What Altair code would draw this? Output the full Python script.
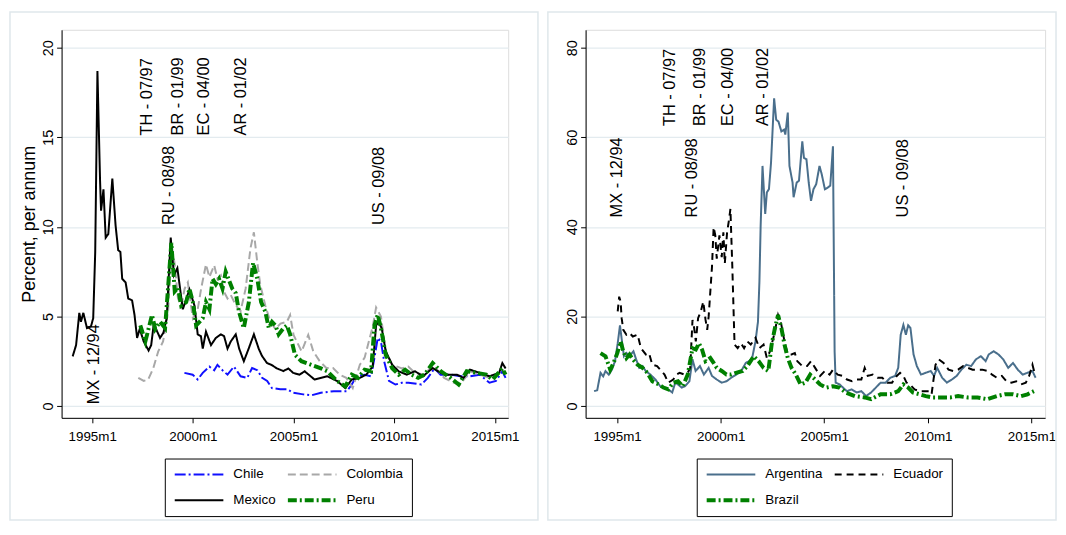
import altair as alt
import pandas as pd

FONT = "Liberation Sans, Arial, sans-serif"

# ---------------- Left panel data (percent per annum) ----------------
mexico_t = [1994.03,1994.2,1994.36,1994.44,1994.56,1994.74,1994.94,1995.05,1995.15,1995.26,1995.39,1995.44,1995.5,1995.56,1995.67,1995.8,1996.0,1996.16,1996.29,1996.4,1996.49,1996.66,1996.79,1996.98,1997.1,1997.23,1997.36,1997.56,1997.8,1997.93,1998.05,1998.17,1998.37,1998.54,1998.7,1998.9,1999.06,1999.23,1999.5,1999.83,2000.08,2000.24,2000.4,2000.49,2000.65,2000.9,2001.14,2001.39,2001.55,2001.72,2001.88,2002.13,2002.3,2002.53,2002.77,2003.03,2003.27,2003.43,2003.68,2003.9,2004.17,2004.5,2004.74,2004.98,2005.3,2005.55,2006.04,2006.68,2007.16,2007.57,2007.89,2008.29,2008.61,2008.93,2009.1,2009.22,2009.38,2009.58,2009.9,2010.22,2010.62,2011.03,2011.43,2011.91,2012.32,2012.64,2013.12,2013.44,2013.76,2014.25,2014.73,2015.21,2015.37,2015.53]
mexico_v = [2.77,3.4,5.2,4.7,5.2,4.35,4.45,4.9,8.6,18.7,12.6,10.9,11.5,12.1,9.4,9.6,12.7,10.1,8.7,8.6,7.1,6.9,6.0,5.9,5.1,3.8,4.3,3.6,3.1,3.4,4.5,4.3,3.8,4.1,4.9,9.4,7.3,7.7,5.4,6.5,5.6,4.0,3.9,3.2,4.15,3.4,3.8,4.0,3.9,3.2,3.6,4.0,3.2,2.5,3.2,4.0,3.2,2.8,2.4,2.3,2.1,1.95,2.1,1.85,1.75,1.94,1.48,1.66,1.4,1.0,1.48,1.57,1.75,2.2,4.5,4.7,4.33,3.05,2.3,1.94,1.75,1.94,1.66,2.12,1.85,1.75,1.75,1.57,2.03,1.85,1.66,1.85,2.4,2.1]

chile_t = [1999.58,1999.99,2000.24,2000.49,2000.82,2001.06,2001.22,2001.47,2001.72,2002.04,2002.37,2002.7,2002.94,2003.2,2003.44,2003.69,2003.93,2004.34,2004.67,2004.99,2005.48,2005.9,2006.36,2007.0,2007.65,2007.89,2008.13,2008.53,2008.85,2009.02,2009.18,2009.34,2009.5,2009.74,2010.06,2010.38,2010.7,2011.35,2011.67,2012.0,2012.3,2012.8,2013.28,2013.76,2014.25,2014.73,2015.05,2015.37,2015.53]
chile_v = [1.85,1.75,1.48,1.85,2.2,2.0,2.3,2.0,1.75,2.2,1.66,1.57,2.12,2.0,1.57,1.4,1.0,0.94,0.94,0.74,0.65,0.6,0.74,0.83,0.83,1.2,1.66,1.75,1.66,2.7,3.8,3.6,2.5,1.4,1.2,1.3,1.3,1.2,1.57,2.1,1.75,1.75,1.66,1.66,1.75,1.3,1.4,1.94,1.57]

colombia_t = [1997.29,1997.56,1997.78,1998.03,1998.28,1998.52,1998.77,1998.93,1999.1,1999.26,1999.43,1999.59,1999.75,1999.92,2000.0,2000.24,2000.41,2000.65,2000.82,2001.06,2001.22,2001.39,2001.55,2001.72,2001.88,2002.13,2002.37,2002.62,2002.86,2003.03,2003.2,2003.35,2003.6,2003.85,2004.1,2004.35,2004.67,2004.83,2005.0,2005.16,2005.4,2005.73,2005.98,2006.3,2006.63,2006.96,2007.29,2007.62,2007.94,2008.29,2008.53,2008.93,2009.1,2009.34,2009.58,2009.9,2010.38,2010.7,2011.03,2011.51,2011.91,2012.48,2012.96,2013.28,2013.76,2014.25,2014.73,2015.05,2015.37,2015.53]
colombia_v = [1.57,1.4,1.48,2.1,3.05,3.6,5.26,9.1,7.9,6.0,5.6,6.55,6.9,5.5,4.9,5.4,6.55,7.9,7.2,7.85,7.1,7.3,6.37,6.0,6.2,5.63,5.3,6.55,8.8,9.7,8.0,6.75,5.6,4.7,4.3,4.6,4.7,5.08,3.97,3.6,3.05,3.97,3.05,2.5,2.12,2.12,1.75,1.57,1.0,2.3,2.7,4.43,5.5,5.0,3.05,2.3,2.1,2.2,1.85,1.75,2.3,1.57,1.3,1.2,1.94,1.75,1.57,1.66,2.03,1.85]

peru_t = [1997.39,1997.64,1997.97,1998.13,1998.37,1998.62,1998.93,1999.1,1999.26,1999.42,1999.67,1999.83,2000.0,2000.16,2000.33,2000.49,2000.65,2000.82,2000.98,2001.14,2001.3,2001.47,2001.63,2001.8,2001.96,2002.13,2002.29,2002.53,2002.78,2002.99,2003.2,2003.39,2003.6,2003.77,2003.93,2004.1,2004.26,2004.5,2004.67,2004.83,2005.07,2005.39,2005.88,2006.36,2006.68,2007.16,2007.57,2007.89,2008.21,2008.53,2008.85,2009.02,2009.18,2009.34,2009.58,2009.9,2010.22,2010.54,2010.87,2011.19,2011.51,2011.91,2012.32,2012.8,2013.2,2013.6,2014.09,2014.57,2014.89,2015.37,2015.53]
peru_v = [4.5,3.6,5.08,4.3,4.7,4.35,9.1,6.4,6.6,5.6,5.8,6.55,5.8,4.5,4.7,4.9,5.8,5.4,7.1,6.8,7.1,6.55,7.5,7.0,6.55,6.3,5.26,4.35,5.8,8.0,7.1,5.8,5.26,4.35,4.7,4.5,4.0,4.35,4.5,4.0,2.86,2.5,2.3,2.1,1.94,1.4,1.1,1.75,1.57,2.03,1.94,4.5,5.1,4.35,2.86,2.1,1.75,2.03,1.75,1.57,1.75,2.4,1.94,1.57,1.2,1.94,1.85,1.75,1.48,2.1,1.75]

# ---------------- Right panel data ----------------
argentina_t = [1993.89,1994.04,1994.2,1994.33,1994.44,1994.6,1994.75,1994.9,1995.03,1995.14,1995.22,1995.33,1995.45,1995.6,1995.79,1995.92,1996.07,1996.23,1996.38,1996.61,1996.85,1997.08,1997.28,1997.47,1997.66,1997.81,1997.94,1998.12,1998.28,1998.49,1998.64,1998.79,1999.0,1999.19,1999.42,1999.58,1999.81,2000.05,2000.28,2000.51,2000.75,2000.98,2001.21,2001.37,2001.52,2001.68,2001.8,2001.87,2001.93,2002.02,2002.15,2002.23,2002.33,2002.43,2002.58,2002.68,2002.79,2002.93,2003.06,2003.12,2003.24,2003.32,2003.47,2003.52,2003.67,2003.78,2003.94,2004.02,2004.14,2004.25,2004.36,2004.48,2004.61,2004.77,2004.88,2005.03,2005.18,2005.29,2005.42,2005.5,2005.55,2005.74,2006.09,2006.32,2006.56,2006.79,2007.02,2007.26,2007.49,2007.72,2007.96,2008.19,2008.42,2008.57,2008.69,2008.82,2008.94,2009.05,2009.16,2009.31,2009.47,2009.67,2009.9,2010.14,2010.3,2010.45,2010.69,2010.92,2011.16,2011.39,2011.62,2011.86,2012.09,2012.32,2012.56,2012.79,2012.94,2013.18,2013.41,2013.64,2013.88,2014.11,2014.34,2014.58,2014.81,2015.05,2015.2]
argentina_v = [3.3,3.5,7.4,6.6,7.8,7.0,8.1,10.0,14.0,18.0,15.0,11.1,11.8,11.1,12.2,10.4,8.5,8.9,7.8,7.0,5.9,4.4,4.1,3.7,3.0,5.2,4.8,4.1,4.4,5.5,10.4,7.8,8.9,7.0,8.5,6.7,5.9,5.2,5.5,6.3,7.0,7.7,9.6,10.0,10.7,14.4,18.8,27.7,40.3,53.6,42.9,47.7,48.4,54.3,68.7,63.9,63.5,61.3,61.7,60.6,65.5,53.6,49.9,46.6,49.9,50.3,59.1,55.4,55.1,49.9,45.8,48.4,49.5,53.6,51.7,48.4,48.8,49.2,58.0,12.2,5.2,4.8,3.3,3.7,3.0,3.3,2.2,3.0,4.1,5.2,5.2,6.3,6.7,8.5,15.9,18.1,15.9,18.0,17.4,11.5,8.9,7.0,7.4,7.8,6.7,8.5,6.3,5.2,5.9,6.7,8.1,9.2,8.9,10.4,11.1,10.0,11.5,12.2,11.5,10.4,8.5,9.6,8.1,7.0,7.4,7.8,6.3]

ecuador_t = [1995.03,1995.1,1995.17,1995.22,1995.3,1995.45,1995.6,1995.76,1995.99,1996.15,1996.39,1996.54,1996.7,1996.93,1997.08,1997.29,1997.47,1997.71,1997.86,1998.02,1998.25,1998.41,1998.53,1998.64,1998.72,1998.8,1998.91,1999.04,1999.16,1999.27,1999.35,1999.42,1999.5,1999.58,1999.66,1999.74,1999.81,1999.94,2000.05,2000.13,2000.2,2000.31,2000.41,2000.47,2000.56,2000.67,2000.82,2000.98,2001.13,2001.29,2001.45,2001.68,2001.87,2002.07,2002.23,2002.38,2002.58,2002.77,2002.93,2003.08,2003.24,2003.42,2003.58,2003.7,2003.94,2004.17,2004.36,2004.56,2004.8,2005.03,2005.26,2005.42,2005.65,2005.88,2006.1,2006.34,2006.57,2006.79,2006.95,2007.1,2007.34,2007.57,2007.8,2008.04,2008.27,2008.5,2008.66,2008.82,2008.97,2009.13,2009.36,2009.6,2009.83,2010.06,2010.18,2010.37,2010.53,2010.76,2011.0,2011.23,2011.46,2011.7,2011.93,2012.16,2012.4,2012.63,2012.87,2013.1,2013.33,2013.57,2013.8,2014.03,2014.27,2014.5,2014.73,2014.89,2015.05,2015.17]
ecuador_v = [21.1,24.4,23.3,19.6,17.0,15.9,16.3,15.5,15.9,12.9,11.5,11.8,9.2,8.9,8.1,7.0,5.2,5.9,7.0,7.4,7.0,7.4,8.5,19.2,17.4,14.4,19.6,21.1,23.3,19.2,17.0,20.0,25.5,31.0,39.9,38.1,32.9,38.1,33.2,38.8,31.8,38.8,41.8,44.0,31.4,13.7,12.9,14.0,12.9,14.4,13.7,15.2,12.9,13.7,10.7,12.2,15.9,20.3,18.1,14.4,11.5,11.5,11.8,10.0,8.9,8.9,10.0,8.5,6.7,7.8,7.0,8.1,7.0,6.7,5.9,5.5,5.9,5.9,8.5,6.7,7.0,6.3,6.3,5.2,5.2,6.7,7.4,6.7,5.2,4.8,3.7,3.3,3.3,3.3,2.6,9.2,10.4,9.6,8.1,7.8,8.1,8.9,8.5,8.1,8.1,8.1,7.8,7.0,6.3,6.7,5.5,5.2,5.5,4.8,5.2,6.7,9.2,7.0]

brazil_t = [1994.2,1994.44,1994.67,1994.83,1995.01,1995.17,1995.3,1995.45,1995.6,1995.76,1995.99,1996.23,1996.46,1996.7,1997.01,1997.24,1997.47,1997.71,1997.94,1998.17,1998.41,1998.64,1998.8,1998.95,1999.1,1999.27,1999.5,1999.66,1999.81,2000.05,2000.28,2000.51,2000.74,2001.06,2001.29,2001.6,2001.83,2002.07,2002.3,2002.46,2002.62,2002.77,2002.93,2003.08,2003.24,2003.42,2003.63,2003.86,2004.09,2004.32,2004.56,2004.8,2005.1,2005.42,2005.73,2006.04,2006.48,2006.95,2007.26,2007.72,2008.19,2008.57,2008.82,2009.05,2009.28,2009.6,2009.9,2010.22,2010.69,2011.08,2011.46,2011.93,2012.4,2012.87,2013.33,2013.72,2014.11,2014.5,2014.81,2015.12]
brazil_v = [11.8,11.1,8.1,9.6,11.8,14.4,12.2,10.7,11.5,10.4,9.2,8.5,7.4,5.5,4.8,4.1,3.7,5.2,5.5,4.4,7.0,12.9,12.6,14.0,12.6,10.0,10.7,9.6,8.5,7.8,7.0,7.0,7.4,7.8,8.9,11.1,10.0,8.5,7.8,13.7,17.4,20.3,17.4,13.7,10.7,8.5,7.0,4.8,5.2,7.0,5.9,4.8,4.1,4.4,4.1,3.0,2.2,1.9,1.5,2.6,2.6,3.3,4.8,4.1,3.0,2.6,2.2,1.9,1.9,1.9,2.2,1.9,1.9,1.5,2.2,2.6,2.6,2.2,2.6,3.3]

# ---------------- Crisis annotations (positions as drawn in each panel) ----------------
crisis_labels = ["MX - 12/94", "TH - 07/97", "RU - 08/98", "BR - 01/99", "EC - 04/00", "AR - 01/02", "US - 09/08"]
crisis_x_left = [1995.1, 1997.7, 1998.83, 1999.28, 2000.55, 2002.37, 2009.25]
crisis_y_left = [0.1, 15.1, 10.1, 15.1, 15.1, 15.1, 10.1]
crisis_x_right = [1994.99, 1997.56, 1998.64, 1999.02, 2000.37, 2002.06, 2008.79]
crisis_y_right = [42.1, 62.5, 42.1, 62.5, 62.5, 62.5, 42.1]

x_ticks = [1995, 2000, 2005, 2010, 2015]
X_DOMAIN = [1993.48, 2015.66]


def series_frame(names, ts, vs):
    rows = []
    for n, t, v in zip(names, ts, vs):
        assert len(t) == len(v), n
        rows += [{"s": n, "t": a, "v": b} for a, b in zip(t, v)]
    return pd.DataFrame(rows)


def panel(names, legend_order, ts, vs, colors, dashes, widths, ydomain, yticks,
          width, ann_x, ann_y, ytitle, legend_x, frame_x):
    df = series_frame(names, ts, vs)
    cmap = dict(zip(names, colors))
    dmap = dict(zip(names, dashes))
    wmap = dict(zip(names, widths))
    xs = alt.Scale(domain=X_DOMAIN, nice=False, zero=False)
    ys = alt.Scale(domain=ydomain, nice=False, zero=False)
    xaxis = alt.Axis(values=x_ticks, labelExpr="datum.value + 'm1'", grid=False,
                     title=None, domainColor="black", tickColor="black", tickSize=5,
                     labelFont=FONT, labelFontSize=13.5, labelColor="black", labelPadding=7)
    yaxis_kw = dict(values=yticks, grid=True, gridColor="#e3ebef", gridWidth=1.3,
                    domainColor="black", tickColor="black", tickSize=5,
                    labelAngle=270, labelAlign="center", labelBaseline="alphabetic",
                    labelFont=FONT, labelFontSize=14.5, labelColor="black", labelPadding=4)
    if ytitle:
        yaxis = alt.Axis(title=ytitle, titleFont=FONT, titleFontSize=18,
                         titleFontWeight="normal", titleColor="black", titlePadding=2,
                         **yaxis_kw)
    else:
        yaxis = alt.Axis(title=None, **yaxis_kw)

    leg = alt.Legend(orient="none", legendX=legend_x, legendY=432, columns=2,
                     title=None, strokeColor="black", padding=8, symbolType="stroke",
                     symbolSize=2400, clipHeight=16, labelFont=FONT, labelFontSize=13.5,
                     labelColor="black", labelOffset=8, columnPadding=10, rowPadding=10,
                     fillColor="white")

    lines = alt.Chart(df).mark_line(clip=True).encode(
        x=alt.X("t:Q", scale=xs, axis=xaxis),
        y=alt.Y("v:Q", scale=ys, axis=yaxis),
        color=alt.Color("s:N", scale=alt.Scale(domain=legend_order,
                        range=[cmap[n] for n in legend_order]), legend=leg),
        strokeDash=alt.StrokeDash("s:N", scale=alt.Scale(domain=legend_order,
                        range=[dmap[n] for n in legend_order]), legend=leg),
        strokeWidth=alt.StrokeWidth("s:N", scale=alt.Scale(type="ordinal", domain=legend_order,
                        range=[wmap[n] for n in legend_order]), legend=leg),
        order="t:Q",
    )

    ann = pd.DataFrame({"label": crisis_labels, "t": ann_x, "v": ann_y})
    text = alt.Chart(ann).mark_text(angle=270, align="left", baseline="middle",
                                    font=FONT, fontSize=16.5, color="black").encode(
        x=alt.X("t:Q", scale=xs), y=alt.Y("v:Q", scale=ys), text="label:N")

    frame = alt.Chart(pd.DataFrame({"k": [0]})).mark_rect(
        fill="transparent", stroke="#dfe7eb", strokeWidth=1.5).encode(
        x=alt.value(frame_x[0]), x2=alt.value(frame_x[1]),
        y=alt.value(-18), y2=alt.value(494))

    return alt.layer(frame, lines, text).properties(width=width, height=391)


left = panel(["Chile", "Colombia", "Mexico", "Peru"],
             ["Chile", "Mexico", "Colombia", "Peru"],
             [chile_t, colombia_t, mexico_t, peru_t],
             [chile_v, colombia_v, mexico_v, peru_v],
             ["#1010ff", "#a8a8a8", "#000000", "#008000"],
             [[11, 3, 2, 3], [8, 4], [1, 0], [9, 3, 2, 3]],
             [2, 2, 2, 4],
             [-0.66, 21.0], [0, 5, 10, 15, 20], 450,
             crisis_x_left, crisis_y_left, "Percent, per annum", 104, (-52, 480))

right = panel(["Argentina", "Ecuador", "Brazil"],
              ["Argentina", "Brazil", "Ecuador"],
              [argentina_t, ecuador_t, brazil_t],
              [argentina_v, ecuador_v, brazil_v],
              ["#4a6f8c", "#000000", "#008000"],
              [[1, 0], [7, 5], [9, 3, 2, 3]],
              [2, 2, 4],
              [-2.66, 84.0], [0, 20, 40, 60, 80], 463,
              crisis_x_right, crisis_y_right, None, 112, (-38, 474))

chart = alt.hconcat(left, right, spacing=6).resolve_scale(
    color="independent", strokeDash="independent", strokeWidth="independent",
    x="independent", y="independent"
).properties(padding=0).configure_view(stroke=None).configure(background="white")

chart.save("out.html", embed_options={"renderer": "svg", "actions": False})
